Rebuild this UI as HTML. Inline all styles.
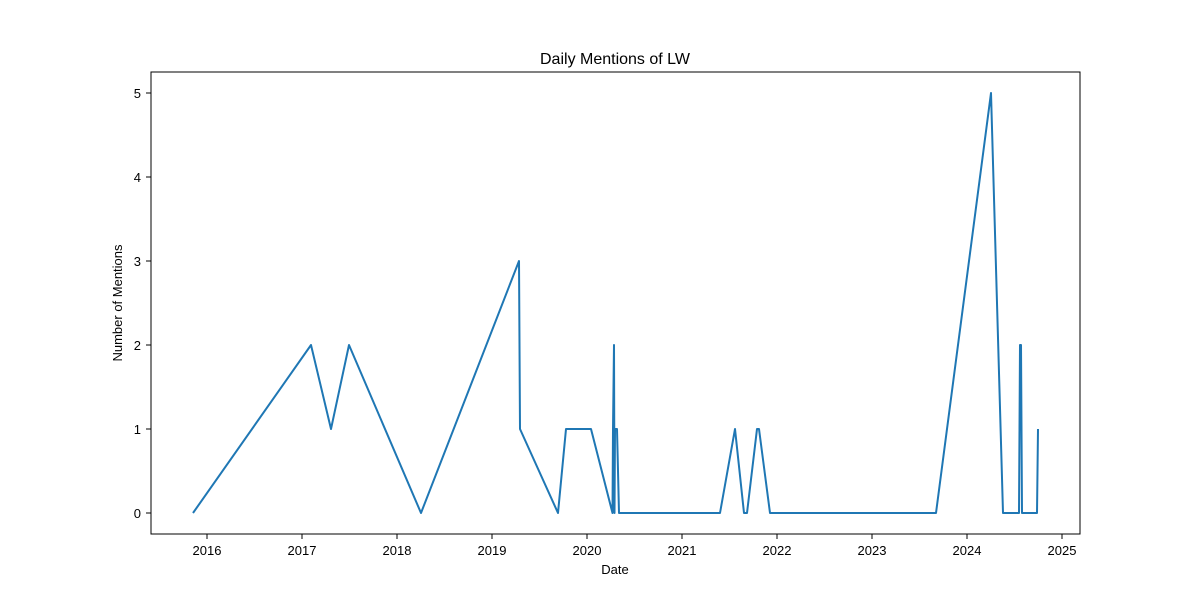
<!DOCTYPE html>
<html><head><meta charset="utf-8"><style>
body{margin:0;background:#fff;}
svg{display:block;font-family:"Liberation Sans","DejaVu Sans",sans-serif;}
</style></head><body>
<svg id="chart" width="1200" height="600">
<rect width="1200" height="600" fill="#fff"/>
<text x="615" y="64" text-anchor="middle" font-size="16">Daily Mentions of LW</text>
<g id="ticks"></g>
<path id="line" fill="none" stroke="#1f77b4" stroke-width="2" stroke-linejoin="round"/>
<rect x="151" y="72" width="929" height="462" fill="none" stroke="#000" stroke-width="1"/>
<text x="615" y="574" text-anchor="middle" font-size="13">Date</text>
<text transform="translate(122,303) rotate(-90)" text-anchor="middle" font-size="13">Number of Mentions</text>
</svg>
<script>
const dates=[2015.853,2017.095,2017.305,2017.495,2018.253,2019.284,2019.295,2019.695,2019.779,2020.042,2020.268,2020.274,2020.284,2020.289,2020.295,2020.316,2020.337,2021.400,2021.558,2021.653,2021.684,2021.789,2021.811,2021.926,2023.674,2024.253,2024.379,2024.547,2024.558,2024.568,2024.579,2024.737,2024.747];
const mentions=[0,2,1,2,0,3,1,0,1,1,0,1,2,0,1,1,0,0,1,0,0,1,1,0,0,5,0,0,2,2,0,0,1];
const xTicks=[2016,2017,2018,2019,2020,2021,2022,2023,2024,2025];
const yTicks=[0,1,2,3,4,5];
const NS="http://www.w3.org/2000/svg";
function xs(v){return 207+(v-2016)*95;}
function ys(v){return 513-v*84;}
const g=document.getElementById('ticks');
function el(t,a){const e=document.createElementNS(NS,t);for(const k in a)e.setAttribute(k,a[k]);g.appendChild(e);return e;}
xTicks.forEach(t=>{
 const l=el('line',{x1:xs(t),x2:xs(t),y1:534,y2:539,stroke:'#000'});
 
 
 const tx=el('text',{x:xs(t),y:555,'text-anchor':'middle','font-size':'13'});
 tx.textContent=t;
 
 
});
yTicks.forEach(t=>{
 const l=el('line',{x1:146,x2:151,y1:ys(t),y2:ys(t),stroke:'#000'});
 
 
 const tx=el('text',{x:141,y:ys(t)+5,'text-anchor':'end','font-size':'13'});
 tx.textContent=t;
 
 
});
document.getElementById('line').setAttribute('d',dates.map((d,i)=>(i?'L':'M')+xs(d).toFixed(1)+','+ys(mentions[i]).toFixed(1)).join(''));
</script>
</body></html>
